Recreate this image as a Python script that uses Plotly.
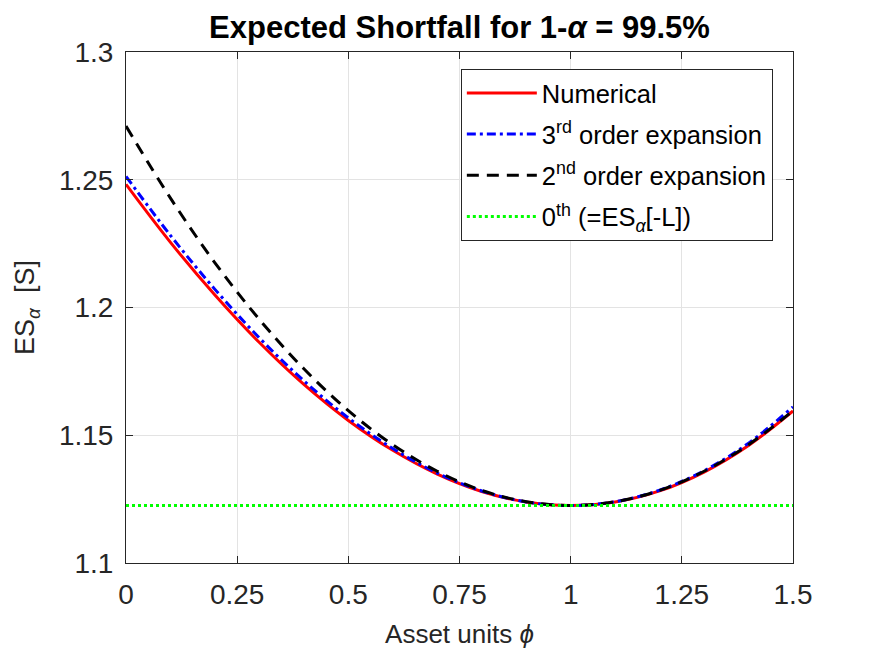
import plotly.graph_objects as go

# Asset units phi
phi = [0.0, 0.1, 0.2, 0.3, 0.4, 0.5, 0.6, 0.7, 0.8, 0.9, 1.0, 1.1, 1.2, 1.3, 1.4, 1.5]
# Numerical ES
es_numerical = [1.2482, 1.2255, 1.2049, 1.1863, 1.1699, 1.1558, 1.1441, 1.1348, 1.1280, 1.1239,
                1.1225, 1.1239, 1.1282, 1.1356, 1.1460, 1.1595]
# 3rd order expansion
es_third = [1.2513, 1.2282, 1.2071, 1.1881, 1.1713, 1.1568, 1.1448, 1.1352, 1.1282, 1.1239,
            1.1225, 1.1240, 1.1285, 1.1361, 1.1469, 1.1611]
# 2nd order expansion
es_second = [1.2710, 1.2428, 1.2175, 1.1953, 1.1760, 1.1596, 1.1463, 1.1359, 1.1284, 1.1240,
             1.1225, 1.1240, 1.1284, 1.1359, 1.1463, 1.1596]
# 0th order (= ES_alpha[-L])
phi_zero = [0.0, 1.5]
es_zero = [1.1225, 1.1225]

x_ticks = [0, 0.25, 0.5, 0.75, 1, 1.25, 1.5]
x_ticklabels = ["0", "0.25", "0.5", "0.75", "1", "1.25", "1.5"]
y_ticks = [1.1, 1.15, 1.2, 1.25, 1.3]
y_ticklabels = ["1.1", "1.15", "1.2", "1.25", "1.3"]

FONT = "Liberation Sans, Arial, Helvetica, sans-serif"

fig = go.Figure()
fig.add_trace(go.Scatter(x=phi, y=es_numerical, mode="lines", name="Numerical",
                         legendgroup="a",
                         line=dict(color="#ff0000", width=3, shape="spline")))
fig.add_trace(go.Scatter(x=phi, y=es_third, mode="lines", name="3<sup>rd</sup> order expansion",
                         legendgroup="b",
                         line=dict(color="#0000ff", width=3, dash="9px,4px,3px,4px", shape="spline")))
fig.add_trace(go.Scatter(x=phi, y=es_second, mode="lines", name="2<sup>nd</sup> order expansion",
                         legendgroup="c",
                         line=dict(color="#000000", width=3, dash="12px,8px", shape="spline")))
fig.add_trace(go.Scatter(x=phi_zero, y=es_zero, mode="lines",
                         name="0<sup>th</sup> (=ES<sub><i>α</i></sub>[-L])",
                         legendgroup="d",
                         line=dict(color="#00ff00", width=3, dash="3px,3px")))

axis_common = dict(
    showline=True, linecolor="#262626", linewidth=1, mirror="ticks",
    ticks="inside", ticklen=7, tickcolor="#262626", tickwidth=1,
    showgrid=True, gridcolor="#e3e3e3", gridwidth=1, zeroline=False,
    tickfont=dict(family=FONT, size=28, color="#262626"),
)

fig.update_layout(
    width=875, height=657,
    margin=dict(l=126, r=82, t=52, b=94),
    paper_bgcolor="white", plot_bgcolor="white",
    title=dict(text="<b>Expected Shortfall for 1-<i>α</i> = 99.5%</b>",
               x=(126 + 793) / 2 / 875, xanchor="center", y=1 - 27 / 657, yanchor="middle",
               font=dict(family=FONT, size=31, color="#000000")),
    xaxis=dict(range=[0, 1.5], tickvals=x_ticks, ticktext=x_ticklabels,
               ticklabelstandoff=6,
               title=dict(text="Asset units <i>ϕ</i>", font=dict(family=FONT, size=26, color="#262626"),
                          standoff=16),
               **axis_common),
    yaxis=dict(range=[1.1, 1.3], tickvals=y_ticks, ticktext=y_ticklabels,
               ticklabelstandoff=6,
               title=dict(text="ES<sub><i>α</i></sub>  [S]", font=dict(family=FONT, size=27, color="#262626"),
                          standoff=16),
               **axis_common),
    legend=dict(x=0.502, xanchor="left", y=0.967, yanchor="top",
                bgcolor="white", bordercolor="#262626", borderwidth=1,
                font=dict(family=FONT, size=25.5, color="#000000"),
                itemwidth=70, tracegroupgap=5, traceorder="grouped"),
    showlegend=True,
)

fig.write_html("out.html")
